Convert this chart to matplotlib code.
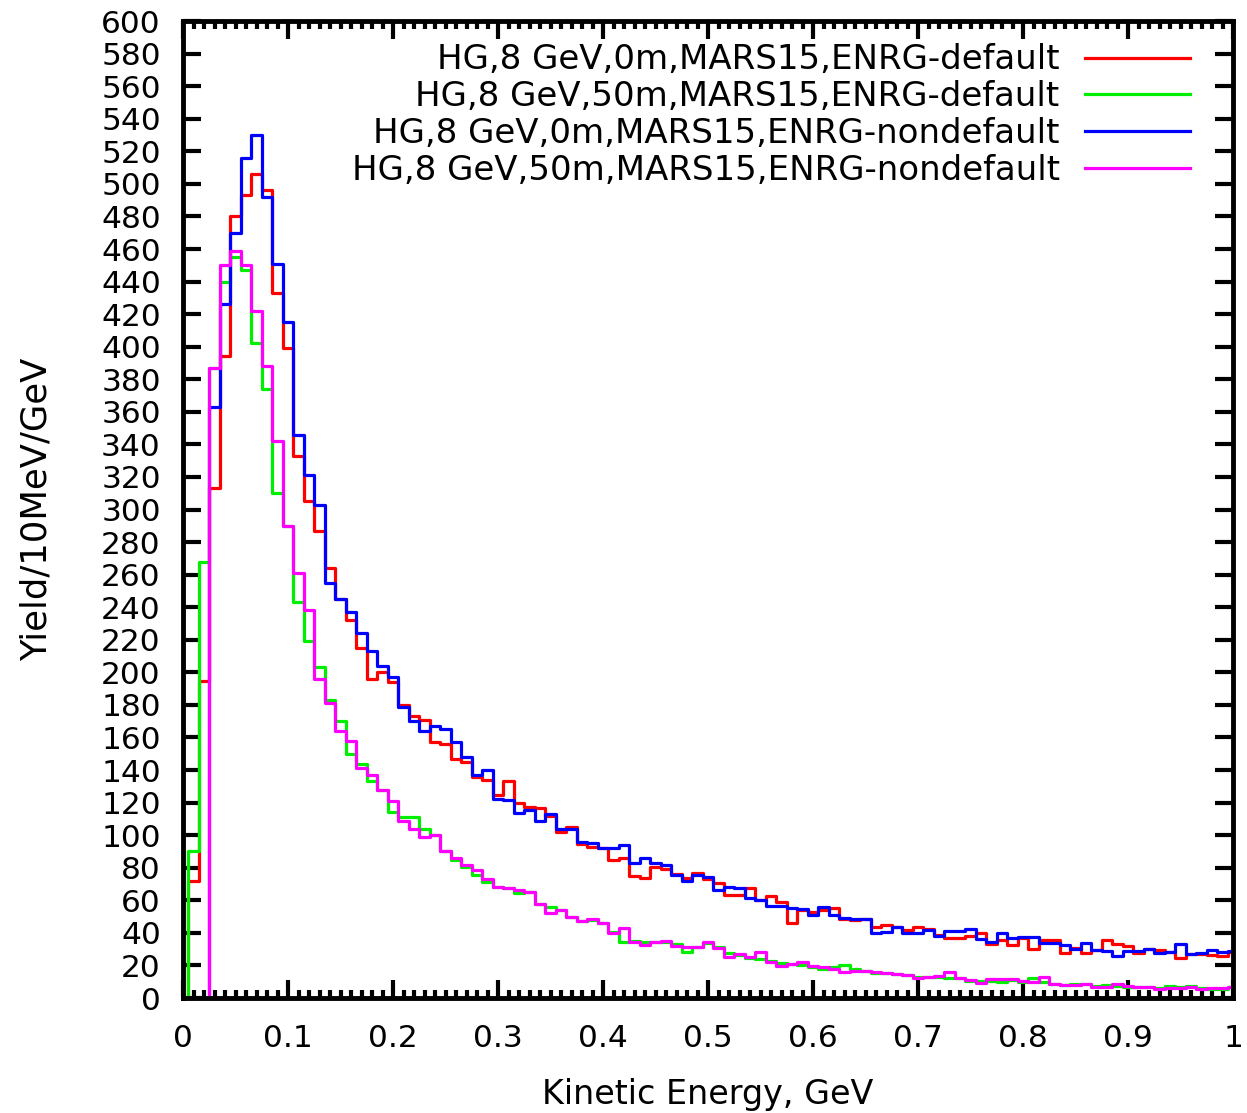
import numpy as np
import matplotlib
matplotlib.use("Agg")
import matplotlib.pyplot as plt
from matplotlib.ticker import MultipleLocator, FuncFormatter

plt.rcParams['font.family'] = ['DejaVu Sans']

# bin centres (GeV), 0.00 .. 1.00 in 0.01 steps
energy = np.round(np.arange(101) * 0.01, 2)

red_0m_default = [
    0, 72, 195, 313, 394, 480, 493, 506, 496, 433,
    399, 333, 305, 287, 264, 245, 232, 215, 196, 200,
    194, 180, 173, 171, 157, 156, 147, 145, 136, 134,
    124.7, 133, 120, 117.5, 117, 112, 102, 105, 94.6, 92.6,
    92, 85, 86, 75, 73.5, 80.6, 79, 76, 74, 77,
    73, 70.4, 63.3, 63.3, 67.8, 60.2, 62.7, 59.2, 45.9, 54,
    53, 54, 55.1, 48.3, 48, 48.3, 43.4, 44.8, 43.8, 41.8,
    43.4, 42.2, 38.7, 36.7, 36.7, 38, 40, 33.4, 35.5, 32.6,
    36.7, 29.9, 35.5, 35.6, 27.4, 31, 27.8, 29.4, 35.5, 33.4,
    32, 27.8, 30, 29.4, 28.4, 24.3, 27, 27, 26.4, 25.8,
    28.4]

green_50m_default = [
    0, 90, 268, 387, 440, 455, 447, 402, 374, 310,
    290, 243, 219, 203, 183, 170, 150, 144, 133, 128,
    114, 111.4, 111.4, 103.6, 100, 90, 84.8, 80.7, 75.6, 71.5,
    68.4, 67.4, 64.3, 65.3, 58, 56, 54, 50, 47, 48,
    46, 40.7, 34.6, 35, 34.6, 34.6, 34.6, 33.2, 28.5, 31.1,
    33.6, 31.5, 27.6, 26.4, 24.4, 23.7, 22.9, 21.3, 20.9, 20.3,
    19.3, 17.6, 19.3, 20.3, 17.6, 16.8, 15.6, 15.2, 14.7, 14.1,
    13.1, 12.7, 12.7, 12.1, 12.1, 10.6, 10.5, 10.6, 10, 11,
    10, 12.5, 10, 8.9, 8, 8.4, 8.6, 7.3, 8, 7.3,
    6.5, 6.9, 6.9, 5.9, 7.3, 6.5, 7.3, 5.9, 5.3, 5.3,
    6.5]

blue_0m_nondefault = [
    0, 0, 0, 363, 426, 470, 516, 530, 492, 451,
    415, 346, 321, 303, 255, 245, 237, 224, 213, 204,
    197, 179, 170, 164, 167, 165, 157, 148, 137, 140,
    122, 121.5, 113.5, 115.5, 108.7, 113, 104, 103.5, 96, 95,
    92, 92, 94, 83, 86, 82.7, 81.7, 75.5, 72, 75.5,
    74.5, 66.3, 68.4, 67.8, 61.2, 60.2, 56.5, 56.5, 55.1, 54.5,
    51, 55.7, 51, 49, 48.3, 48.3, 40.1, 40.7, 43.4, 39.7,
    39.7, 41.8, 38, 41.2, 41.2, 42.2, 36.5, 34.6, 39.7, 36.7,
    37.3, 37.3, 34, 33.6, 32.6, 30, 33.6, 29.4, 29, 25.9,
    29, 29, 30, 27.4, 28.4, 33.3, 27, 27.8, 29.4, 28.4,
    29]

magenta_50m_nondefault = [
    0, 0, 0, 387, 450, 459, 450, 422, 388, 342,
    290, 261, 238, 196, 181, 164, 158, 141, 137, 128,
    121, 109, 103.6, 99, 100, 90.5, 85.8, 81.7, 78.6, 72.9,
    68, 67.4, 66.3, 65.3, 58, 52.4, 54, 50, 47, 48.3,
    46.3, 39.7, 42.8, 34.6, 32.6, 34.6, 35.2, 31.9, 31.1, 31.1,
    34.6, 30.5, 25.4, 27, 25, 28.5, 22.3, 19.9, 20.9, 22.3,
    19.9, 19.3, 17.6, 16.2, 16.8, 16.8, 16.2, 15.2, 14.5, 14.1,
    12.1, 13.1, 13.5, 16.2, 12.1, 11, 9.4, 11.5, 11.5, 11.5,
    10.6, 10, 12.7, 8.9, 8, 8, 8.9, 6.9, 6.9, 8.6,
    7.3, 6.5, 6.5, 5.3, 5.9, 5.9, 6.5, 5.3, 5.9, 5.9,
    6.5]

labels = [
    "HG,8 GeV,0m,MARS15,ENRG-default",
    "HG,8 GeV,50m,MARS15,ENRG-default",
    "HG,8 GeV,0m,MARS15,ENRG-nondefault",
    "HG,8 GeV,50m,MARS15,ENRG-nondefault",
]
series = [red_0m_default, green_50m_default, blue_0m_nondefault, magenta_50m_nondefault]
colors = ["#ff0000", "#00ee00", "#0000ff", "#ff00ff"]

FS = 22.5
LFS = 24.5

fig = plt.figure(figsize=(12.47, 11.13), dpi=100)
ax = fig.add_axes([0.1468, 0.1033, 0.8420, 0.8778])

for vals, col, lab in zip(series, colors, labels):
    ax.step(energy, vals, where='mid', color=col, lw=2.3, label=lab)

ax.set_xlim(0, 1)
ax.set_ylim(0, 600)
ax.xaxis.set_major_locator(MultipleLocator(0.1))
ax.xaxis.set_minor_locator(MultipleLocator(0.01))
ax.yaxis.set_major_locator(MultipleLocator(20))
ax.xaxis.set_major_formatter(FuncFormatter(lambda v, p: "%g" % round(v, 2)))

for s in ax.spines.values():
    s.set_linewidth(3.5)
ax.tick_params(which='major', direction='in', top=True, right=True,
               length=13, width=3, labelsize=FS)
ax.tick_params(which='minor', direction='in', top=True, right=True,
               length=6, width=3)
ax.tick_params(axis='x', which='major', pad=19)
ax.tick_params(axis='y', which='major', pad=16)

ax.set_xlabel("Kinetic Energy, GeV", fontsize=24, labelpad=18)
ax.set_ylabel("Yield/10MeV/GeV", fontsize=25.5, labelpad=34)

leg = ax.legend(loc='upper right', markerfirst=False, frameon=False,
                fontsize=LFS, handlelength=3.09, handletextpad=0.74,
                labelspacing=0.11, borderaxespad=0.0,
                bbox_to_anchor=(0.972, 0.991))
for h in leg.get_lines():
    h.set_linewidth(2.3)

fig.savefig("out.png", dpi=100)
